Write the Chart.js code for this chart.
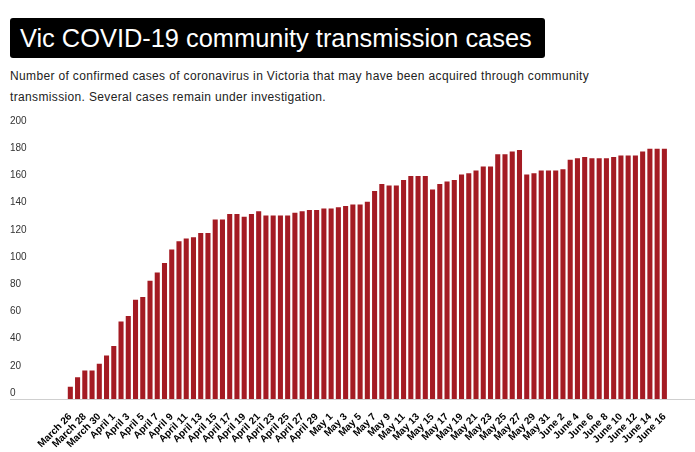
<!DOCTYPE html>
<html>
<head>
<meta charset="utf-8">
<script src="https://cdn.jsdelivr.net/npm/chart.js@4"></script>
<style>
  html, body { margin: 0; padding: 0; background: #fff; }
  body { width: 695px; height: 452px; position: relative; overflow: hidden; font-family: "Liberation Sans", Arial, sans-serif; }
  #titulo { position: absolute; left: 10px; top: 18px; width: 535px; height: 40px; background: #000; color: #fff;
            border-radius: 3px; font-size: 25.4px; line-height: 40px; padding-left: 10px; box-sizing: border-box; white-space: nowrap; }
  #sub { position: absolute; left: 10px; top: 66px; font-size: 12px; line-height: 21px; color: #222; letter-spacing: 0.35px; }
  #wrap { position: absolute; left: 0; top: 110px; width: 695px; height: 342px; }
</style>
</head>
<body>
<div id="titulo">Vic COVID-19 community transmission cases</div>
<div id="sub">Number of confirmed cases of coronavirus in Victoria that may have been acquired through community<br>transmission. Several cases remain under investigation.</div>
<div id="wrap"><canvas id="chart" width="695" height="342"></canvas></div>
<script>
// --- Datos ---
const dias = [
  'March 26','March 27','March 28','March 29','March 30','March 31',
  'April 1','April 2','April 3','April 4','April 5','April 6','April 7','April 8','April 9','April 10',
  'April 11','April 12','April 13','April 14','April 15','April 16','April 17','April 18','April 19','April 20',
  'April 21','April 22','April 23','April 24','April 25','April 26','April 27','April 28','April 29','April 30',
  'May 1','May 2','May 3','May 4','May 5','May 6','May 7','May 8','May 9','May 10',
  'May 11','May 12','May 13','May 14','May 15','May 16','May 17','May 18','May 19','May 20',
  'May 21','May 22','May 23','May 24','May 25','May 26','May 27','May 28','May 29','May 30','May 31',
  'June 1','June 2','June 3','June 4','June 5','June 6','June 7','June 8','June 9','June 10',
  'June 11','June 12','June 13','June 14','June 15','June 16'
];

const casos = [
  9, 16, 21, 21, 26, 32,
  39, 57, 61, 73, 75, 87, 93, 100, 110, 116,
  118, 119, 122, 122, 132, 132, 136, 136, 134, 136,
  138, 135, 135, 135, 135, 137, 138, 139, 139, 140,
  140, 141, 142, 143, 143, 145, 153, 158, 157, 157,
  161, 164, 164, 164, 154, 158, 160, 161, 165, 166,
  168, 171, 171, 180, 180, 182, 183, 165, 166, 168, 168,
  168, 169, 176, 177, 178, 177, 177, 177, 178, 179,
  179, 179, 182, 184, 184, 184
];

const yTicks = { min: 0, max: 200, step: 20 };

// línea base gris a lo ancho de la figura
const lineaBase = {
  id: 'lineaBase',
  beforeDatasetsDraw: (c) => {
    const { ctx, scales } = c;
    const y = Math.round(scales.y.getPixelForValue(0)) + 0.5;
    ctx.save();
    ctx.strokeStyle = '#cfcfcf';
    ctx.lineWidth = 1;
    ctx.beginPath();
    ctx.moveTo(10, y);
    ctx.lineTo(c.width, y);
    ctx.stroke();
    ctx.restore();
  }
};

const fuente = '"Liberation Sans", Arial, sans-serif';

new Chart(document.getElementById('chart'), {
  type: 'bar',
  data: {
    labels: dias,
    datasets: [{
      data: casos,
      backgroundColor: '#a41b23',
      barPercentage: 0.7,
      categoryPercentage: 1
    }]
  },
  options: {
    responsive: false,
    animation: false,
    layout: { padding: { left: 10, right: 27, top: 17, bottom: 0 } },
    plugins: { legend: { display: false }, tooltip: { enabled: false } },
    scales: {
      x: {
        grid: { display: false },
        border: { display: false },
        ticks: {
          autoSkip: false, maxRotation: 45, minRotation: 45, padding: 4,
          color: '#000', font: { family: fuente, size: 10, weight: 'bold' },
          callback: (v, i) => i % 2 === 0 ? dias[i] : ''
        },
        afterFit: (s) => { s.height = 53; }
      },
      y: {
        min: yTicks.min, max: yTicks.max,
        grid: { display: false },
        border: { display: false },
        ticks: {
          stepSize: yTicks.step, crossAlign: 'far', labelOffset: -6, padding: 0,
          color: '#333', font: { family: fuente, size: 10 }
        },
        afterFit: (s) => { s.width = 56.7; }
      }
    }
  },
  plugins: [lineaBase]
});
</script>
</body>
</html>
